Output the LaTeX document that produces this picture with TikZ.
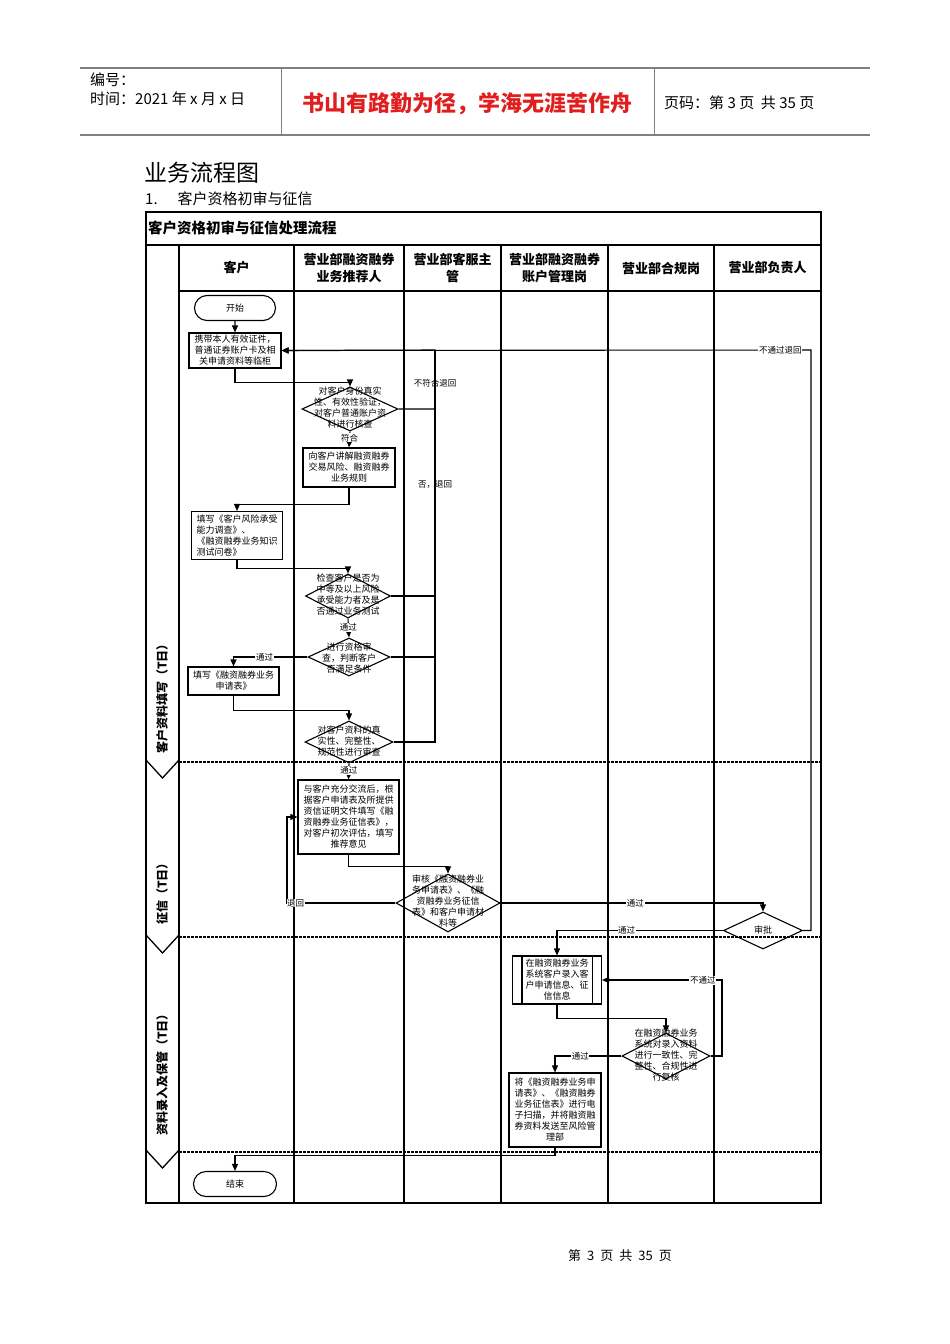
\documentclass[tikz,border=0pt]{standalone}
\usepackage{fontspec}
\setmainfont{Noto Sans CJK SC}
\usepackage{tikz}
\usetikzlibrary{arrows.meta,positioning,calc,shapes.geometric,shapes.misc}
\definecolor{mottoc}{HTML}{E01E1E}
\definecolor{rulec}{HTML}{808080}
\tikzset{
  >={Triangle[length=7pt,width=6pt]},
  stepbox/.style={draw,line width=1.1pt,inner sep=1pt,align=center,font=\fontsize{9}{11}\selectfont},
  term/.style={draw,rounded rectangle,line width=1.1pt,inner sep=1pt,minimum width=83,minimum height=25,font=\fontsize{9}{10}\selectfont},
  dec/.style={draw,diamond,line width=1.1pt,inner sep=0pt},
  dtext/.style={align=center,inner sep=0pt,font=\fontsize{9}{11}\selectfont},
  lbl/.style={fill=white,inner sep=0.6pt,font=\fontsize{8.5}{10}\selectfont},
  vlbl/.style={inner sep=0.6pt,font=\fontsize{8.5}{10}\selectfont},
  flow/.style={->,line width=1.1pt},
  lane/.style={line width=1.3pt},
  phsep/.style={line width=1.1pt,dash pattern=on 2.5pt off 1.5pt},
  hdr/.style={align=center,font=\fontsize{13}{17}\selectfont\bfseries},
  phase/.style={rotate=90,font=\fontsize{12}{14}\selectfont\bfseries},
  pagetxt/.style={anchor=west,inner sep=0pt,font=\fontsize{15}{17}\selectfont},
}

\begin{document}
\begin{tikzpicture}[x=1pt,y=-1pt]
  \useasboundingbox (0,0) rectangle (950,1344);
  % page header
  \draw[rulec,line width=1.2pt] (80,68) -- (870,68);
  \draw[rulec,line width=2.2pt] (80,135) -- (870,135);
  \draw[rulec,line width=1pt] (281,68) -- (281,135) (654,68) -- (654,135);
  \node[pagetxt] (docno) at (90,80) {编号：};
  \node[pagetxt] (docdate) at (90,99) {时间：2021 年 x 月 x 日};
  \node[mottoc,inner sep=0pt,font=\fontsize{22}{24}\selectfont\bfseries] (motto) at (467,104) {书山有路勤为径，学海无涯苦作舟};
  \node[pagetxt] (pageno) at (664,103) {页码：第 3 页\ \ 共 35 页};
  \node[anchor=west,inner sep=0pt,font=\fontsize{23}{25}\selectfont] (sect) at (144,173) {业务流程图};
  \node[pagetxt] (subsect) at (145,199) {1.\hspace{20pt}客户资格初审与征信};

  % frame, lanes, phases
  \draw[line width=1.5pt] (146,212) rectangle (821,1203);
  \draw[line width=2.8pt] (146,245) -- (821,245);
  \node[anchor=west,inner sep=0pt,font=\fontsize{14.5}{16}\selectfont\bfseries] (chart) at (148,228) {客户资格初审与征信处理流程};
  \draw[lane] (179,246) -- (179,1203) (179,291) -- (821,291);
  \foreach \x in {294,404,501,608,714} \draw[lane] (\x,246) -- (\x,1203);
  \foreach \y in {762,937,1152} {
    \draw[phsep] (179,\y) -- (821,\y);
    \draw[lane] (146,\y-2) -- (162.5,\y+16) -- (179,\y-2);
  }
  \node[hdr] (h1) at (236.5,268) {客户};
  \node[hdr] (h2) at (349,268) {营业部融资融券\\业务推荐人};
  \node[hdr] (h3) at (452.5,268) {营业部客服主\\管};
  \node[hdr] (h4) at (554.5,268) {营业部融资融券\\账户管理岗};
  \node[hdr] (h5) at (661,268) {营业部合规岗};
  \node[hdr] (h6) at (767.5,268) {营业部负责人};
  \node[phase] (p1) at (162,696) {客户资料填写（T日）};
  \node[phase] (p2) at (162,891) {征信（T日）};
  \node[phase] (p3) at (162,1072) {资料录入及保管（T日）};

  % steps
  \node[term] (start) at (235,308) {开始};
  \node[stepbox,minimum width=92,minimum height=35] (fetch) at (235,350.5) {携带本人有效证件，\\普通证券账户卡及相\\关申请资料等临柜};
  \node[dec,minimum width=96,minimum height=44] (idchk) at (350,409) {};
  \node[dtext] (idchkt) at (350,408) {对客户身份真实\\性、有效性验证，\\对客户普通账户资\\料进行核查};
  \node[stepbox,minimum width=92,minimum height=39] (brief) at (349,467.5) {向客户讲解融资融券\\交易风险、融资融券\\业务规则};
  \node[stepbox,align=left,minimum width=91,minimum height=48] (survey) at (237,535.5) {填写《客户风险承受\\能力调查》、\\《融资融券业务知识\\测试问卷》};
  \node[dec,minimum width=85,minimum height=44] (riskchk) at (348,596) {};
  \node[dtext] (riskchkt) at (348,595) {检查客户是否为\\中等及以上风险\\承受能力者及是\\否通过业务测试};
  \node[dec,minimum width=82,minimum height=38] (qualchk) at (349,657) {};
  \node[dtext] (qualchkt) at (349,658) {进行资格审\\查，判断客户\\否满足条件};
  \node[stepbox,minimum width=91,minimum height=28] (apply) at (233.5,681) {填写《融资融券业务\\申请表》};
  \node[dec,minimum width=88,minimum height=42] (datachk) at (349,742) {};
  \node[dtext] (datachkt) at (349,741) {对客户资料的真\\实性、完整性、\\规范性进行审查};
  \node[stepbox,minimum width=101,minimum height=74] (credit) at (348.5,817) {与客户充分交流后，根\\据客户申请表及所提供\\资信证明文件填写《融\\资融券业务征信表》，\\对客户初次评估，填写\\推荐意见};
  \node[dec,minimum width=104,minimum height=58] (review) at (448,903) {};
  \node[dtext] (reviewt) at (448,901) {审核《融资融券业\\务申请表》、《融\\资融券业务征信\\表》和客户申请材\\料等};
  \node[dec,minimum width=79,minimum height=37] (approve) at (763,930.5) {};
  \node[dtext] (approvet) at (763,930.5) {审批};
  \node[stepbox,minimum width=89,minimum height=48] (entry) at (557,980) {在融资融券业务\\系统客户录入客\\户申请信息、征\\信信息};
  \draw[line width=1.1pt] ([xshift=10pt]entry.north west) -- ([xshift=10pt]entry.south west)
    ([xshift=-10pt]entry.north east) -- ([xshift=-10pt]entry.south east);
  \node[dec,minimum width=88,minimum height=46] (recheck) at (666,1056) {};
  \node[dtext] (recheckt) at (666,1055) {在融资融券业务\\系统对录入资料\\进行一致性、完\\整性、合规性进\\行复核};
  \node[stepbox,minimum width=92,minimum height=74] (scan) at (555,1110) {将《融资融券业务申\\请表》、《融资融券\\业务征信表》进行电\\子扫描，并将融资融\\券资料发送至风险管\\理部};
  \node[term,minimum width=85] (finish) at (235,1184) {结束};

  % connectors
  \coordinate (backtop) at (435,350);
  \coordinate (rejtop) at (811,350);
  \coordinate (retcol) at (287,0);
  \coordinate (failcol) at (722,0);
  \draw[flow] (start) -- (fetch);
  \draw[flow] (fetch.south) -- ++(0,14) -| (idchk.north);
  \draw[flow] (idchk.east) -| (backtop) -- (fetch.east);
  \draw[flow,-] (backtop) |- (datachk.east);
  \draw[flow,-] (riskchk.east) -- (riskchk.east -| backtop);
  \draw[flow,-] (qualchk.east) -- (qualchk.east -| backtop);
  \node[vlbl] (nok1) at (435,383) {不符合退回};
  \node[vlbl] (nok2) at (435,485) {否，退回};
  \draw[flow] (idchk.south) -- node[lbl,pos=0.4] {符合} (brief.north);
  \draw[flow] (brief.south) -- ++(0,17) -| (survey.north);
  \draw[flow] (survey.south) -- ++(0,8) -| (riskchk.north);
  \draw[flow] (riskchk.south) -- node[lbl,pos=0.45] {通过} (qualchk.north);
  \draw[flow] (qualchk.west) -| node[lbl,pos=0.29] {通过} (apply.north);
  \draw[flow] (apply.south) -- ++(0,15) -| (datachk.north);
  \draw[flow] (datachk.south) -- node[lbl,pos=0.45] {通过} (credit.north);
  \draw[flow] (credit.south) -- ++(0,12) -| (review.north);
  \draw[flow] (review.west) -| node[lbl,pos=0.46] {退回} (retcol |- credit.west) -- (credit.west);
  \draw[flow] (review.east) -| node[lbl,pos=0.257] {通过} (approve.north);
  \draw[flow] (approve.west) -| node[lbl,pos=0.29] {通过} (entry.north);
  \draw[flow] (approve.east) -| (rejtop) -- node[lbl,pos=0.058] {不通过退回} (fetch.east);
  \draw[flow] (entry.south) -- ++(0,14) -| (recheck.north);
  \draw[flow] (recheck.east) -| (failcol |- entry.east) -- node[lbl,pos=0.16] {不通过} (entry.east);
  \draw[flow] (recheck.west) -| node[lbl,pos=0.31] {通过} (scan.north);
  \draw[flow] (scan.south) -- ++(0,8) -| (finish.north);

  % page footer
  \node[inner sep=0pt,font=\fontsize{13}{15}\selectfont] (footer) at (620,1256) {第\hspace{6pt}3\hspace{6pt}页\hspace{6pt}共\hspace{6pt}35\hspace{6pt}页};
\end{tikzpicture}
\end{document}
